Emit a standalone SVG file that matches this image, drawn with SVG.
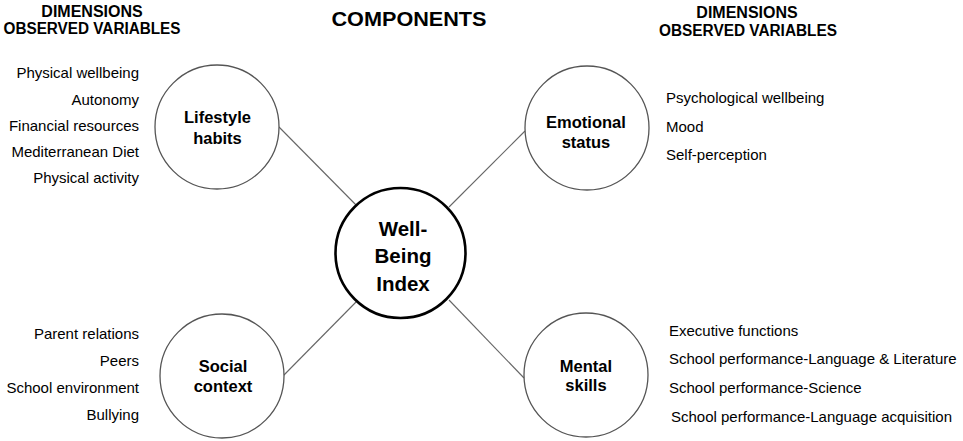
<svg xmlns="http://www.w3.org/2000/svg" width="963" height="441" viewBox="0 0 963 441">
<style>
text{font-family:"Liberation Sans",Arial,sans-serif;fill:#000}
.hd{font-size:16px;font-weight:bold;text-anchor:middle}
.ttl{font-size:20px;font-weight:bold;text-anchor:middle}
.lst{font-size:15px}
.rt{text-anchor:end}
.lbl{font-size:16.5px;font-weight:bold;text-anchor:middle}
.big{font-size:20.5px;font-weight:bold;text-anchor:middle}
.c{fill:#fff;stroke:#555;stroke-width:1.3}
.conn line{stroke:#666;stroke-width:1.1}
</style>
<rect width="963" height="441" fill="#fff"/>
<g id="headers">
<text class="hd" x="92" y="17">DIMENSIONS</text>
<text class="hd" x="92" y="34" textLength="177" lengthAdjust="spacingAndGlyphs">OBSERVED VARIABLES</text>
<text class="ttl" x="409" y="26" textLength="155" lengthAdjust="spacingAndGlyphs">COMPONENTS</text>
<text class="hd" x="747" y="18">DIMENSIONS</text>
<text class="hd" x="748" y="36" textLength="178" lengthAdjust="spacingAndGlyphs">OBSERVED VARIABLES</text>
</g>
<g class="conn" id="connectors">
<line x1="279" y1="127" x2="360" y2="209"/>
<line x1="525" y1="131" x2="449" y2="207"/>
<line x1="283" y1="376" x2="358" y2="300"/>
<line x1="524" y1="378" x2="449" y2="300"/>
</g>
<g id="lifestyle">
<circle class="c" cx="217" cy="127" r="62"/>
<text class="lbl" x="217.5" y="123">Lifestyle</text>
<text class="lbl" x="217.5" y="144">habits</text>
</g>
<g id="emotional">
<circle class="c" cx="587" cy="128" r="62"/>
<text class="lbl" x="586" y="128">Emotional</text>
<text class="lbl" x="586" y="148">status</text>
</g>
<g id="social">
<circle class="c" cx="222" cy="376" r="62"/>
<text class="lbl" x="223" y="372">Social</text>
<text class="lbl" x="223" y="392">context</text>
</g>
<g id="mental">
<circle class="c" cx="586" cy="375" r="62"/>
<text class="lbl" x="586" y="372">Mental</text>
<text class="lbl" x="586" y="391">skills</text>
</g>
<g id="wellbeing">
<circle cx="400.5" cy="253" r="65" fill="#fff" stroke="#000" stroke-width="2.6"/>
<text class="big" x="403" y="236">Well-</text>
<text class="big" x="403" y="263">Being</text>
<text class="big" x="403" y="291">Index</text>
</g>
<g id="lifestyle-vars">
<text class="lst rt" x="139" y="78">Physical wellbeing</text>
<text class="lst rt" x="139" y="105">Autonomy</text>
<text class="lst rt" x="139" y="131">Financial resources</text>
<text class="lst rt" x="139" y="157">Mediterranean Diet</text>
<text class="lst rt" x="139" y="183">Physical activity</text>
</g>
<g id="emotional-vars">
<text class="lst" x="666" y="103">Psychological wellbeing</text>
<text class="lst" x="666" y="132">Mood</text>
<text class="lst" x="666" y="160">Self-perception</text>
</g>
<g id="social-vars">
<text class="lst rt" x="139" y="339">Parent relations</text>
<text class="lst rt" x="139" y="366">Peers</text>
<text class="lst rt" x="139" y="393">School environment</text>
<text class="lst rt" x="139" y="420">Bullying</text>
</g>
<g id="mental-vars">
<text class="lst" x="669" y="336">Executive functions</text>
<text class="lst" x="669" y="364">School performance-Language &amp; Literature</text>
<text class="lst" x="669" y="393">School performance-Science</text>
<text class="lst" x="671" y="422">School performance-Language acquisition</text>
</g>
</svg>
